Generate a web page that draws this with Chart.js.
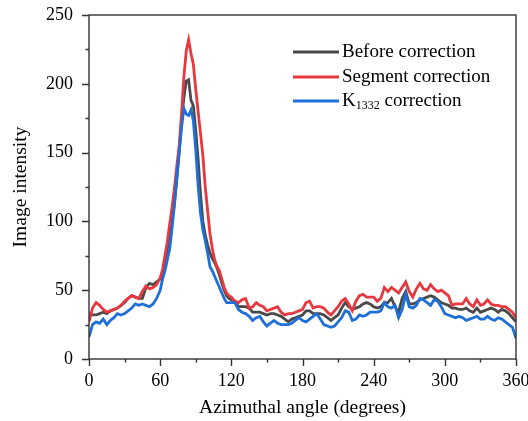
<!DOCTYPE html>
<html>
<head>
<meta charset="utf-8">
<script src="https://cdn.jsdelivr.net/npm/chart.js@4/dist/chart.umd.min.js"></script>
<style>
  html, body { margin: 0; padding: 0; background: #fff; }
  #wrap { width: 528px; height: 421px; }
</style>
</head>
<body>
<div id="wrap"><canvas id="canvas"></canvas></div>
<script>
// azimuthal angle (degrees)
var angles = [
  0,3,6,9,12,15,18,21,24,27,30,33,36,39,42,45,48,51,54,57,60,
  62,64,66,68,70,72,74,76,78,80,82,84,86,88,90,92,94,96,98,100,102,104,106,108,110,112,114,116,118,120,
  123,126,129,132,135,138,141,144,147,150,153,156,159,162,165,168,171,174,177,180,
  183,186,189,192,195,198,201,204,207,210,213,216,219,222,225,228,231,234,237,240,
  243,246,249,252,255,258,261,264,267,270,273,276,279,282,285,288,291,294,297,300,
  303,306,309,312,315,318,321,324,327,330,333,336,339,342,345,348,351,354,357,360
];

var beforeCorr = [
  33,32,32,33,34,33,35,36,37,39,41,44,46,45,44,44,52,55,54,56,58,
  62,70,80,88,100,113,130,150,172,190,202,203,188,184,166,145,120,100,90,83,77,73,70,66,61,55,50,46,44,43,
  42,38,38,38,37,34,34,34,33,32,33,33,32,31,29,27,29,30,31,32,
  35,35,33,33,33,32,30,28,30,32,37,41,38,36,37,38,40,41,40,38,
  37,38,41,41,44,38,34,44,49,40,40,41,43,44,45,46,45,43,41,40,
  39,37,37,36,36,37,35,34,37,34,35,36,37,36,34,36,35,33,30,27
];

var segmentCorr = [
  27,37,41,39,36,34,35,36,37,39,42,44,46,45,44,49,53,51,52,54,59,
  65,75,85,98,110,124,140,155,178,205,224,232,222,214,196,180,164,148,125,108,91,80,72,67,64,58,52,48,46,45,
  42,41,43,44,37,38,41,39,38,35,36,37,38,34,32,33,33,34,35,36,
  41,42,37,38,38,37,34,32,35,38,42,44,40,35,42,46,47,45,45,45,
  42,44,52,49,52,50,48,52,56,49,45,51,55,51,50,54,51,49,50,48,
  46,39,40,40,40,44,40,38,43,39,40,43,40,39,39,38,38,36,34,30
];

var k1332Corr = [
  16,25,27,26,29,25,28,30,33,32,33,35,37,40,39,40,39,38,40,44,50,
  58,64,72,80,95,112,132,150,168,182,178,177,181,173,152,126,106,94,86,77,67,64,60,56,52,48,44,41,41,41,
  41,36,34,33,31,28,30,31,27,24,26,28,26,25,25,25,26,28,30,28,
  27,29,31,33,29,25,24,23,24,27,30,35,34,28,29,32,31,32,34,34,
  34,35,41,38,37,39,30,36,47,38,37,39,44,43,41,39,43,42,38,33,
  32,31,30,31,30,28,29,30,31,29,29,31,29,28,30,29,27,25,23,15
];

var seriesNames = ['Before correction', 'Segment correction', 'K1332 correction'];
var seriesColors = ['#4a4a4a', '#e8383f', '#1f6fd8'];
var xTicks = [0, 60, 120, 180, 240, 300, 360];
var yTicks = [0, 50, 100, 150, 200, 250];

var serif = '"Liberation Serif", "DejaVu Serif", serif';
var axisColor = '#333';

function pts(vals) {
  return angles.map(function (a, i) { return { x: a, y: vals[i] }; });
}

// frame, outward ticks (major + minor) and the legend with the subscript
var decor = {
  id: 'decor',
  afterDraw: function (chart) {
    var c = chart.ctx, a = chart.chartArea;
    var xs = chart.scales.x, ys = chart.scales.y;
    c.save();
    c.strokeStyle = axisColor;
    c.lineWidth = 1.4;
    c.strokeRect(a.left, a.top, a.right - a.left, a.bottom - a.top);
    c.beginPath();
    for (var v = 0; v <= 360; v += 30) {
      var px = Math.round(xs.getPixelForValue(v)) + 0.5;
      c.moveTo(px, a.bottom);
      c.lineTo(px, a.bottom + (v % 60 === 0 ? 7 : 3.5));
    }
    for (var w = 0; w <= 250; w += 25) {
      var py = Math.round(ys.getPixelForValue(w)) + 0.5;
      c.moveTo(a.left, py);
      c.lineTo(a.left - (w % 50 === 0 ? 7 : 3.5), py);
    }
    c.stroke();

    // legend
    var lx = 293, ly = [52, 77, 101];
    c.font = '19px ' + serif;
    c.textBaseline = 'middle';
    c.fillStyle = '#000';
    for (var i = 0; i < 3; i++) {
      c.strokeStyle = seriesColors[i];
      c.lineWidth = 3;
      c.beginPath();
      c.moveTo(lx, ly[i]);
      c.lineTo(lx + 46, ly[i]);
      c.stroke();
      if (i < 2) {
        c.fillText(seriesNames[i], lx + 49, ly[i]);
      } else {
        c.fillText('K', lx + 49, ly[i]);
        var kw = c.measureText('K').width;
        c.font = '12px ' + serif;
        c.fillText('1332', lx + 49 + kw, ly[i] + 5);
        var sw = c.measureText('1332').width;
        c.font = '19px ' + serif;
        c.fillText(' correction', lx + 49 + kw + sw, ly[i]);
      }
    }
    c.restore();
  }
};

new Chart(document.getElementById('canvas'), {
  type: 'line',
  data: {
    datasets: [
      { label: seriesNames[0], data: pts(beforeCorr), borderColor: seriesColors[0], order: 2 },
      { label: seriesNames[1], data: pts(segmentCorr), borderColor: seriesColors[1], order: 1 },
      { label: seriesNames[2], data: pts(k1332Corr), borderColor: seriesColors[2], order: 0 }
    ]
  },
  options: {
    responsive: true,
    maintainAspectRatio: false,
    animation: false,
    layout: { padding: { top: 15, right: 12, left: 0, bottom: 0 } },
    elements: {
      point: { radius: 0 },
      line: { borderWidth: 2.8, tension: 0, fill: false }
    },
    plugins: {
      legend: { display: false },
      tooltip: { enabled: false }
    },
    scales: {
      x: {
        type: 'linear',
        min: 0, max: 360,
        afterFit: function (s) { s.height = 62; s.paddingLeft = 0; s.paddingRight = 0; },
        afterBuildTicks: function (s) { s.ticks = xTicks.map(function (v) { return { value: v }; }); },
        grid: { display: false, drawTicks: false },
        border: { display: false },
        ticks: { color: '#000', font: { family: serif, size: 18 }, padding: 11, maxRotation: 0 },
        title: { display: true, text: 'Azimuthal angle (degrees)', color: '#000',
                 font: { family: serif, size: 19.5 }, padding: { top: 0, bottom: 1 } }
      },
      y: {
        min: 0, max: 250,
        afterFit: function (s) { s.width = 89; s.paddingTop = 0; s.paddingBottom = 0; },
        afterBuildTicks: function (s) { s.ticks = yTicks.map(function (v) { return { value: v }; }); },
        grid: { display: false, drawTicks: false },
        border: { display: false },
        ticks: { color: '#000', font: { family: serif, size: 18 }, padding: 16 },
        title: { display: true, text: 'Image intensity', color: '#000',
                 font: { family: serif, size: 19.5 }, padding: { top: 9, bottom: 0 } }
      }
    }
  },
  plugins: [decor]
});
</script>
</body>
</html>
